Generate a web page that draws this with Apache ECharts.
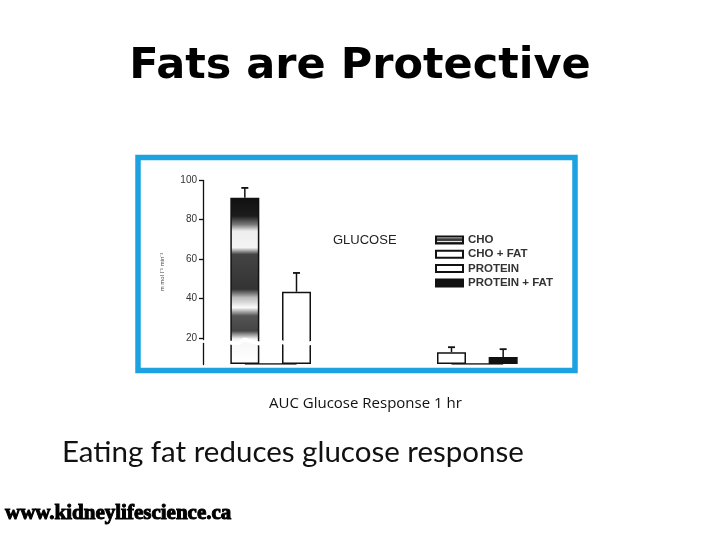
<!DOCTYPE html>
<html>
<head>
<meta charset="utf-8">
<script src="https://cdn.jsdelivr.net/npm/echarts@6.0.0/dist/echarts.min.js"></script>
<style>
  html, body { margin: 0; padding: 0; background: #fff; }
  #main { width: 720px; height: 540px; }
</style>
</head>
<body>
<div id="main"></div>
<script>
// meals on the x axis (two blank slots keep the CHO and PROTEIN groups apart)
var categories = ['CHO', 'CHO + FAT', ' ', '  ', 'PROTEIN', 'PROTEIN + FAT'];
// AUC glucose, mean and top of the error bar
var meanValues = [91, 43.5, null, null, 6, 3.5];
var upperValues = [96, 53, null, null, 8.5, 7.5];
// legend entries and the slot each one sits in
var seriesNames = ['CHO', 'CHO + FAT', 'PROTEIN', 'PROTEIN + FAT'];
var seriesSlots = [0, 1, 4, 5];
var yTicks = [20, 40, 60, 80, 100];

var choFill = new echarts.graphic.LinearGradient(0, 0, 0, 1, [
  { offset: 0, color: '#111' },
  { offset: 0.11, color: '#1c1c1c' },
  { offset: 0.16, color: '#777' },
  { offset: 0.2, color: '#eee' },
  { offset: 0.3, color: '#f4f4f4' },
  { offset: 0.34, color: '#444' },
  { offset: 0.55, color: '#333' },
  { offset: 0.6, color: '#bbb' },
  { offset: 0.66, color: '#fafafa' },
  { offset: 0.71, color: '#555' },
  { offset: 0.8, color: '#444' },
  { offset: 0.85, color: '#f6f6f6' },
  { offset: 1, color: '#fff' }
]);
var barStyles = [
  { color: choFill, borderColor: '#111', borderWidth: 1.5 },
  { color: '#fff', borderColor: '#111', borderWidth: 1.5 },
  { color: '#fff', borderColor: '#111', borderWidth: 1.5 },
  { color: '#111', borderColor: '#111', borderWidth: 1.5 }
];

var myChart = echarts.init(document.getElementById('main'));

var series = [
  {
    // baseline under each pair of bars
    type: 'line',
    data: meanValues.map(function (v) { return v == null ? '-' : 0; }),
    symbol: 'none',
    silent: true,
    lineStyle: { color: '#111', width: 1.5 },
    z: 1
  }
];

seriesNames.forEach(function (name, i) {
  series.push({
    name: name,
    type: 'bar',
    stack: 'meal',
    barWidth: 29,
    itemStyle: barStyles[i],
    data: meanValues.map(function (v, k) {
      return k === seriesSlots[i] ? v : '-';
    }),
    z: 2
  });
});

var errorData = [];
meanValues.forEach(function (v, k) {
  if (v != null) errorData.push([k, v, upperValues[k]]);
});

series.push({
  type: 'custom',
  silent: true,
  data: errorData,
  encode: { x: 0, y: [1, 2] },
  renderItem: function (params, api) {
    var base = api.coord([api.value(0), api.value(1)]);
    var top = api.coord([api.value(0), api.value(2)]);
    var half = 3.5;
    return {
      type: 'group',
      children: [
        { type: 'line', shape: { x1: top[0], y1: top[1], x2: base[0], y2: base[1] },
          style: { stroke: '#111', lineWidth: 1.5 } },
        { type: 'line', shape: { x1: top[0] - half, y1: top[1], x2: top[0] + half, y2: top[1] },
          style: { stroke: '#111', lineWidth: 1.8 } }
      ]
    };
  },
  z: 3
});

myChart.setOption({
  animation: false,
  textStyle: { fontFamily: 'Liberation Sans' },
  title: [
    {
      text: 'Fats are Protective',
      left: 'center',
      top: 45,
      padding: 0,
      textStyle: { fontFamily: 'DejaVu Sans', fontWeight: 'bold', fontSize: 43, color: '#000' }
    },
    {
      text: 'GLUCOSE',
      left: 333,
      top: 234,
      padding: 0,
      textStyle: { fontFamily: 'Liberation Sans', fontWeight: 'normal', fontSize: 13, color: '#222' }
    },
    {
      text: 'AUC Glucose Response 1 hr',
      left: 269,
      top: 396,
      padding: 0,
      textStyle: { fontFamily: 'Open Sans', fontWeight: 'normal', fontSize: 15, color: '#111' }
    },
    {
      text: 'Eating fat reduces glucose response',
      left: 62,
      top: 437,
      padding: 0,
      textStyle: { fontFamily: 'Lato', fontWeight: 'normal', fontSize: 29.5, color: '#111' }
    },
    {
      text: 'www.kidneylifescience.ca',
      left: 5,
      top: 503,
      padding: 0,
      textStyle: { fontFamily: 'Liberation Serif', fontWeight: 'bold', fontSize: 21, color: '#000',
        textBorderColor: '#000', textBorderWidth: 1 }
    }
  ],
  graphic: [
    {
      type: 'rect',
      shape: { x: 138, y: 157.5, width: 437, height: 213 },
      style: { fill: 'none', stroke: '#1ca1e1', lineWidth: 5.5 },
      silent: true,
      z: 0
    }
  ],
  legend: {
    data: seriesNames,
    orient: 'vertical',
    left: 435,
    top: 234,
    padding: 0,
    itemGap: 2.3,
    itemWidth: 27,
    itemHeight: 7,
    icon: 'rect',
    selectedMode: false,
    textStyle: { fontFamily: 'Liberation Sans', fontWeight: 'bold', fontSize: 11.5, color: '#333',
      lineHeight: 12 }
  },
  grid: {
    left: 219,
    right: 191,
    top: 180,
    bottom: 176,
    containLabel: false
  },
  xAxis: {
    type: 'category',
    data: categories,
    axisLine: { show: false },
    axisTick: { show: false },
    axisLabel: { show: false },
    splitLine: { show: false }
  },
  yAxis: {
    type: 'value',
    min: 0,
    max: 100,
    offset: 16,
    name: 'm mol l\u207B\u00B9 min\u207B\u00B9',
    nameLocation: 'middle',
    nameRotate: 90,
    nameGap: 38,
    nameTextStyle: { fontSize: 6, color: '#444' },
    breaks: [{ start: 10.5, end: 19.5, gap: '2.2%' }],
    breakArea: {
      show: true,
      itemStyle: { color: '#fff', borderColor: '#fff', borderWidth: 0, opacity: 1 },
      zigzagAmplitude: 2,
      zigzagZ: 200,
      expandOnClick: false
    },
    axisLine: { show: true, lineStyle: { color: '#111', width: 1.3 } },
    axisTick: { show: true, length: 4, customValues: yTicks, lineStyle: { color: '#111', width: 1.3 } },
    axisLabel: { customValues: yTicks, margin: 6, fontSize: 10, color: '#333' },
    splitLine: { show: false }
  },
  series: series
});
</script>
</body>
</html>
